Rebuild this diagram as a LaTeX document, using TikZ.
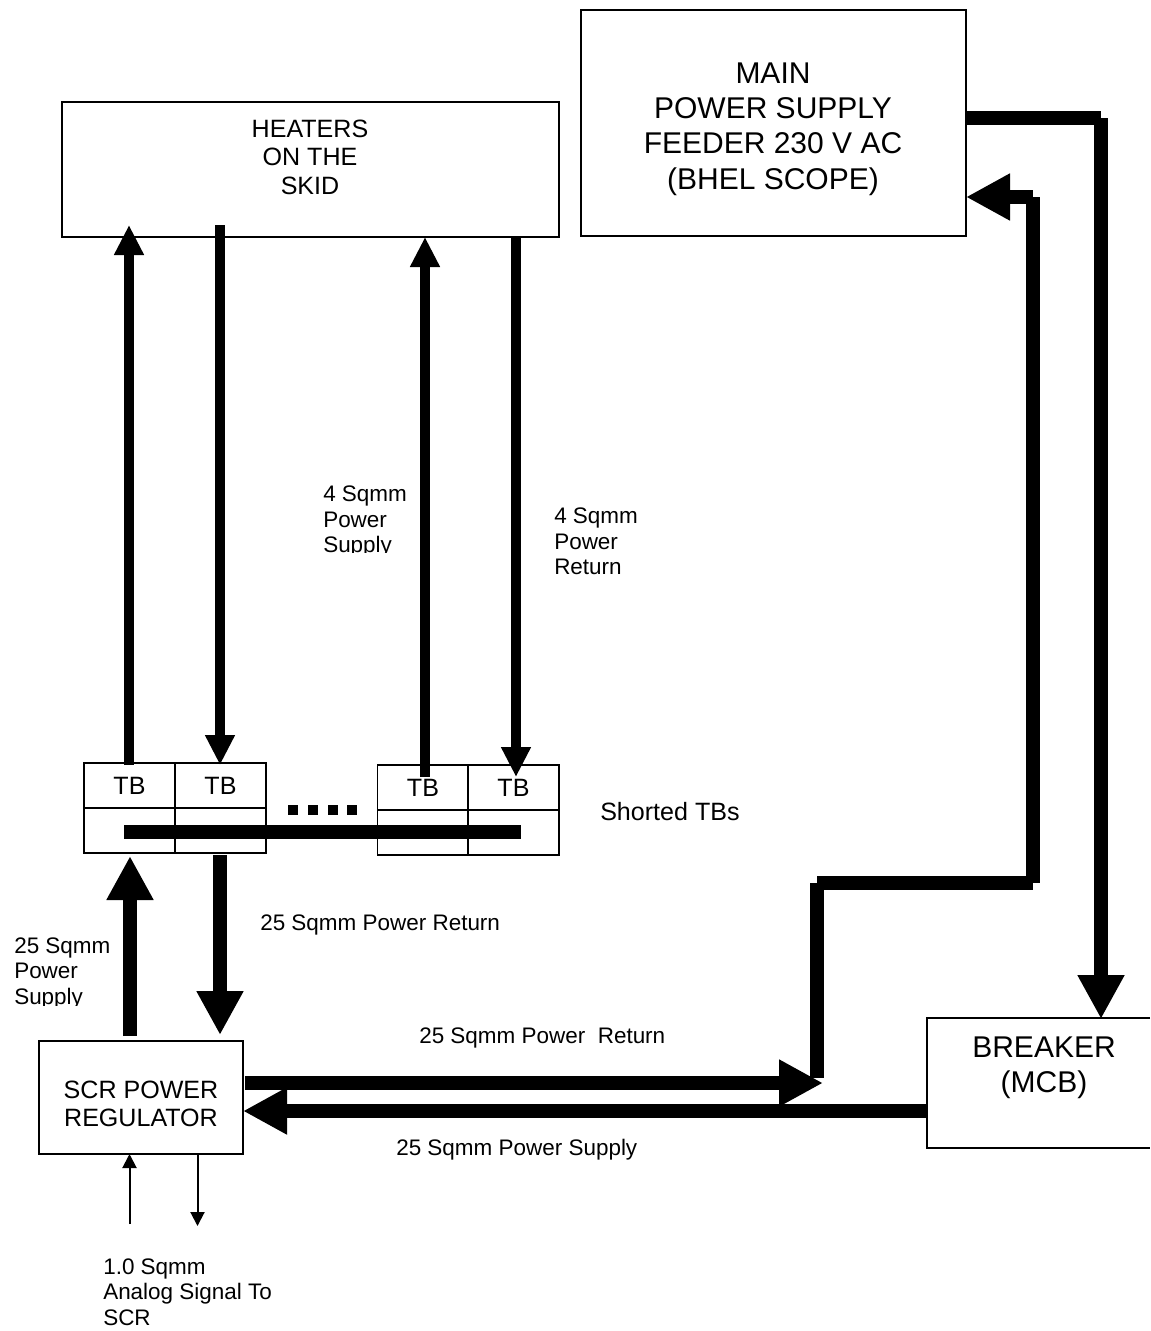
\documentclass[tikz,border=0pt]{standalone}
\usepackage{fontspec}
\setmainfont{Liberation Sans}
\usetikzlibrary{arrows.meta,calc}
\tikzset{
  x=0.75pt,y=-0.75pt,
  boxstyle/.style={draw=black,line width=1.1pt,inner sep=0pt,outer sep=0pt},
  bigtext/.style={align=center,inner sep=0pt,font=\fontsize{22.5}{26.4}\selectfont},
  midtext/.style={align=center,inner sep=0pt,font=\fontsize{18.8}{21.4}\selectfont},
  smalltext/.style={align=left,inner sep=0pt,font=\fontsize{16.85}{19.1}\selectfont},
  tbcell/.style={boxstyle,minimum width=68.25pt,minimum height=33.75pt,midtext},
  wirethick/.style={line width=10.9pt,line cap=butt},
  wiremid/.style={line width=7.5pt,line cap=butt},
  heavyarrow/.style={wirethick,-{Triangle[length=33pt,width=33pt]}},
  midarrow/.style={wiremid,-{Triangle[length=22.5pt,width=21pt]}},
  thinarrow/.style={line width=1.5pt,-{Triangle[length=10.5pt,width=10.5pt]}},
}
\begin{document}
\begin{tikzpicture}
\useasboundingbox (0,0) rectangle (1150,1331);
% boxes
\node[boxstyle,minimum width=288.75pt,minimum height=169.5pt] (main) at (773.5,123) {};
\node[bigtext] (mainlabel) at (773,129) {MAIN\\POWER SUPPLY\\FEEDER 230 V AC\\(BHEL SCOPE)};
\node[boxstyle,minimum width=372.75pt,minimum height=101.25pt] (heat) at (310.5,169.5) {};
\node[midtext] (heatlabel) at (310,157) {HEATERS\\ON THE\\SKID};
\node[boxstyle,minimum width=153pt,minimum height=84.75pt] (scr) at (141,1097.5) {};
\node[midtext] (scrlabel) at (141,1104) {SCR POWER\\REGULATOR};
\node[inner sep=0pt,outer sep=0pt,minimum width=167.25pt,minimum height=97.5pt] (brk) at (1038.5,1083) {};
\draw[line width=1.1pt] (brk.north east) -- (brk.north west) -- (brk.south west) -- (brk.south east);
\node[bigtext] (brklabel) at (1044,1068) {BREAKER\\(MCB)};
% terminal blocks
\node[tbcell] (ta) at (129.5,785.5) {\raisebox{-3.5pt}{TB}};
\node[tbcell] (tb) at (220.5,785.5) {\raisebox{-3.5pt}{TB}};
\node[tbcell] (tc) at (423,787.5) {\raisebox{-3.5pt}{TB}};
\node[tbcell] (td) at (513.5,787.5) {\raisebox{-3.5pt}{TB}};
\node[tbcell] (ba) at (129.5,830.5) {};
\node[tbcell] (bb) at (220.5,830.5) {};
\node[tbcell] (bc) at (423,832.5) {};
\node[tbcell] (bd) at (513.5,832.5) {};
% bus
\coordinate (busL) at (124,832);
\coordinate (busR) at (521,832);
\draw[wirethick] (busL) -- (busR);
% dots
\foreach \i/\xx in {1/293,2/313,3/333,4/352}
  \node[fill=black,inner sep=0pt,minimum width=7.5pt,minimum height=7.5pt] (dot\i) at (\xx,810) {};
% heater arrows
\coordinate (h1s) at (129,765); \coordinate (h1e) at (129,225);
\coordinate (h2s) at (220,225); \coordinate (h2e) at (220,765);
\coordinate (h3s) at (425,777); \coordinate (h3e) at (425,237);
\coordinate (h4s) at (516,237); \coordinate (h4e) at (516,777);
\draw[midarrow] (h1s) -- (h1e);
\draw[midarrow] (h2s) -- (h2e);
\draw[midarrow] (h3s) -- (h3e);
\draw[midarrow] (h4s) -- (h4e);
% SCR to TB
\coordinate (s1s) at (130,1036); \coordinate (s1e) at (130,856);
\coordinate (s2s) at (220,855); \coordinate (s2e) at (220,1035);
\draw[heavyarrow] (s1s) -- (s1e);
\draw[heavyarrow] (s2s) -- (s2e);
% return path
\coordinate (r1) at (245,1083); \coordinate (r2) at (823,1083);
\coordinate (r3) at (817,1078); \coordinate (r4) at (817,883);
\coordinate (r5) at (1033,883); \coordinate (r6) at (1033,197);
\draw[heavyarrow] (r1) -- (r2);
\draw[wirethick] (r3) -- (r4);
\draw[wirethick] (r4) -- (r5);
\draw[wirethick] (r5) -- (r6);
\draw[heavyarrow] (r6) -- (main.east |- r6);
% feed path
\coordinate (f1) at (1101,118); \coordinate (f2) at (1101,1019);
\draw[wirethick] (main.east |- f1) -- (f1);
\draw[heavyarrow] (f1) -- (f2);
% supply
\draw[heavyarrow] (brk.west |- 0,1111) -- (scr.east |- 0,1111);
% signal arrows
\coordinate (g1) at (129.5,1224); \coordinate (g2) at (197.5,1226);
\draw[thinarrow] (g1) -- (g1 |- scr.south);
\draw[thinarrow] (g2 |- scr.south) -- (g2);
% labels
\node[midtext,anchor=west] (shorted) at (600,812) {Shorted TBs};
\node[smalltext,anchor=west] (l25r) at (260,925) {25 Sqmm Power Return};
\node[smalltext,anchor=west] (l25rr) at (419,1038) {25 Sqmm Power\ \ Return};
\node[smalltext,anchor=west] (l25s) at (396,1150) {25 Sqmm Power Supply};
\node[smalltext,anchor=north west] (lsig) at (103,1258.5) {1.0 Sqmm\\Analog Signal To\\SCR};
\begin{scope}
  \clip (0,930) rectangle (120,1005);
  \node[smalltext,anchor=north west] (ls25) at (14,937.5) {25 Sqmm\\Power\\Supply};
\end{scope}
\begin{scope}
  \clip (300,480) rectangle (415,552);
  \node[smalltext,anchor=north west] (ls4) at (323,486) {4 Sqmm\\Power\\Supply};
\end{scope}
\begin{scope}
  \clip (540,500) rectangle (650,575);
  \node[smalltext,anchor=north west] (lr4) at (554,508) {4 Sqmm\\Power\\Return};
\end{scope}
\end{tikzpicture}
\end{document}
